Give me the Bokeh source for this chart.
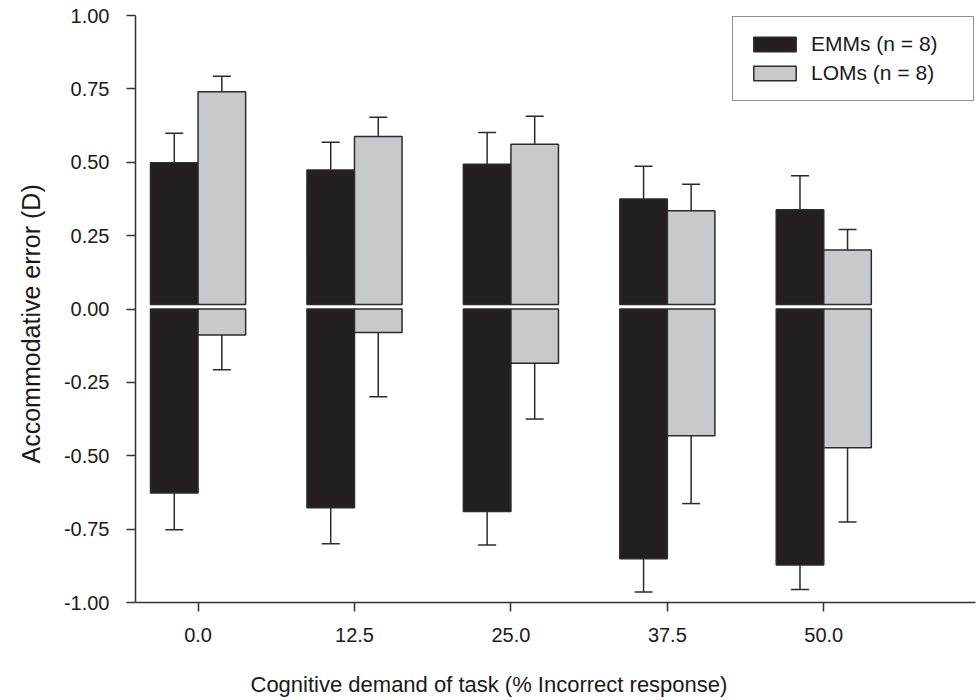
from bokeh.plotting import figure
from bokeh.models import (Range1d, FixedTicker, NumeralTickFormatter, Whisker, TeeHead,
                          ColumnDataSource, Legend, LegendItem, Title)
from bokeh.embed import file_html
from bokeh.resources import INLINE

# ---- data ----
demand_labels = ["0.0", "12.5", "25.0", "37.5", "50.0"]
emm_pos = [0.498, 0.474, 0.493, 0.375, 0.338]
emm_pos_cap = [0.599, 0.568, 0.601, 0.486, 0.454]
lom_pos = [0.740, 0.588, 0.561, 0.335, 0.201]
lom_pos_cap = [0.793, 0.653, 0.657, 0.425, 0.271]
emm_neg = [-0.627, -0.677, -0.690, -0.851, -0.872]
emm_neg_cap = [-0.752, -0.800, -0.804, -0.964, -0.956]
lom_neg = [-0.089, -0.080, -0.185, -0.432, -0.473]
lom_neg_cap = [-0.207, -0.299, -0.375, -0.663, -0.726]
y_ticks = [-1.0, -0.75, -0.5, -0.25, 0.0, 0.25, 0.5, 0.75, 1.0]
x_title = "Cognitive demand of task (% Incorrect response)"
y_title = "Accommodative error (D)"

# ---- styling ----
FONT = "Liberation Sans"
BLACK = "#231f20"
GRAY = "#c8c9cb"
EDGE = "#2b2b2b"
TXT = "#1a1a1a"
BAR_W = 0.304
OFF = BAR_W / 2
GAP = 0.015

idx = list(range(len(demand_labels)))
x_emm = [i - OFF for i in idx]
x_lom = [i + OFF for i in idx]

p = figure(width=976, height=700, output_backend="svg", toolbar_location=None,
           x_range=Range1d(-0.40, 4.97), y_range=Range1d(-1.0, 1.0),
           min_border_left=135, min_border_right=1, min_border_top=15, min_border_bottom=98)
p.outline_line_color = None
p.xgrid.visible = False
p.ygrid.visible = False
p.background_fill_color = "white"
p.border_fill_color = "white"

src_emm_pos = ColumnDataSource(dict(x=x_emm, top=emm_pos, cap=emm_pos_cap))
src_lom_pos = ColumnDataSource(dict(x=x_lom, top=lom_pos, cap=lom_pos_cap))
src_emm_neg = ColumnDataSource(dict(x=x_emm, bottom=emm_neg, cap=emm_neg_cap))
src_lom_neg = ColumnDataSource(dict(x=x_lom, bottom=lom_neg, cap=lom_neg_cap))

# error bars (behind bars)
wk = dict(line_color=EDGE, line_width=1.5, dimension="height", level="glyph")
for src, val in ((src_emm_pos, "top"), (src_lom_pos, "top")):
    p.add_layout(Whisker(source=src, base="x", lower=val, upper="cap", lower_head=None,
                         upper_head=TeeHead(size=18, line_width=1.5, line_color=EDGE), **wk))
for src, val in ((src_emm_neg, "bottom"), (src_lom_neg, "bottom")):
    p.add_layout(Whisker(source=src, base="x", lower="cap", upper=val, upper_head=None,
                         lower_head=TeeHead(size=18, line_width=1.5, line_color=EDGE), **wk))

r_emm = p.vbar(x="x", top="top", bottom=GAP, width=BAR_W, source=src_emm_pos,
               fill_color=BLACK, line_color=EDGE, line_width=1.5)
r_lom = p.vbar(x="x", top="top", bottom=GAP, width=BAR_W, source=src_lom_pos,
               fill_color=GRAY, line_color=EDGE, line_width=1.5)
p.vbar(x="x", top=0, bottom="bottom", width=BAR_W, source=src_emm_neg,
       fill_color=BLACK, line_color=EDGE, line_width=1.5)
p.vbar(x="x", top=0, bottom="bottom", width=BAR_W, source=src_lom_neg,
       fill_color=GRAY, line_color=EDGE, line_width=1.5)

# axes
p.xaxis.ticker = FixedTicker(ticks=idx)
p.xaxis.major_label_overrides = {i: lab for i, lab in zip(idx, demand_labels)}
p.yaxis.ticker = FixedTicker(ticks=y_ticks)
p.yaxis.formatter = NumeralTickFormatter(format="0.00")
for ax in (p.xaxis[0], p.yaxis[0]):
    ax.axis_line_color = "#333333"
    ax.axis_line_width = 1.5
    ax.major_tick_line_color = "#333333"
    ax.major_tick_line_width = 1.5
    ax.major_tick_in = 0
    ax.major_tick_out = 9
    ax.minor_tick_line_color = None
    ax.major_label_text_font = FONT
    ax.major_label_text_font_size = "20px"
    ax.major_label_text_color = TXT
p.xaxis.major_label_standoff = 16
p.yaxis.major_label_standoff = 17

# axis titles as side-panel titles, shifted to where the reference has them
p.add_layout(Title(text="\n" + x_title, align="left", offset=115, vertical_align="top",
                   standoff=4, text_font=FONT, text_font_size="22px",
                   text_font_style="normal", text_color=TXT), "below")
p.add_layout(Title(text=y_title, align="left", offset=139, vertical_align="top",
                   standoff=28, text_font=FONT, text_font_size="25px",
                   text_font_style="normal", text_color=TXT), "left")

legend = Legend(items=[LegendItem(label="EMMs (n = 8)", renderers=[r_emm]),
                       LegendItem(label="LOMs (n = 8)", renderers=[r_lom])],
                location=(597, 501))
legend.border_line_color = "#222222"
legend.border_line_width = 1.2
legend.background_fill_color = "white"
legend.background_fill_alpha = 1.0
legend.padding = 15
legend.spacing = 5
legend.glyph_width = 53
legend.glyph_height = 18
legend.label_standoff = 10
legend.label_width = 147
legend.margin = 0
legend.label_text_font = FONT
legend.label_text_font_size = "21px"
legend.label_text_color = TXT
p.add_layout(legend)

open("out.html", "w").write(file_html(p, INLINE))
